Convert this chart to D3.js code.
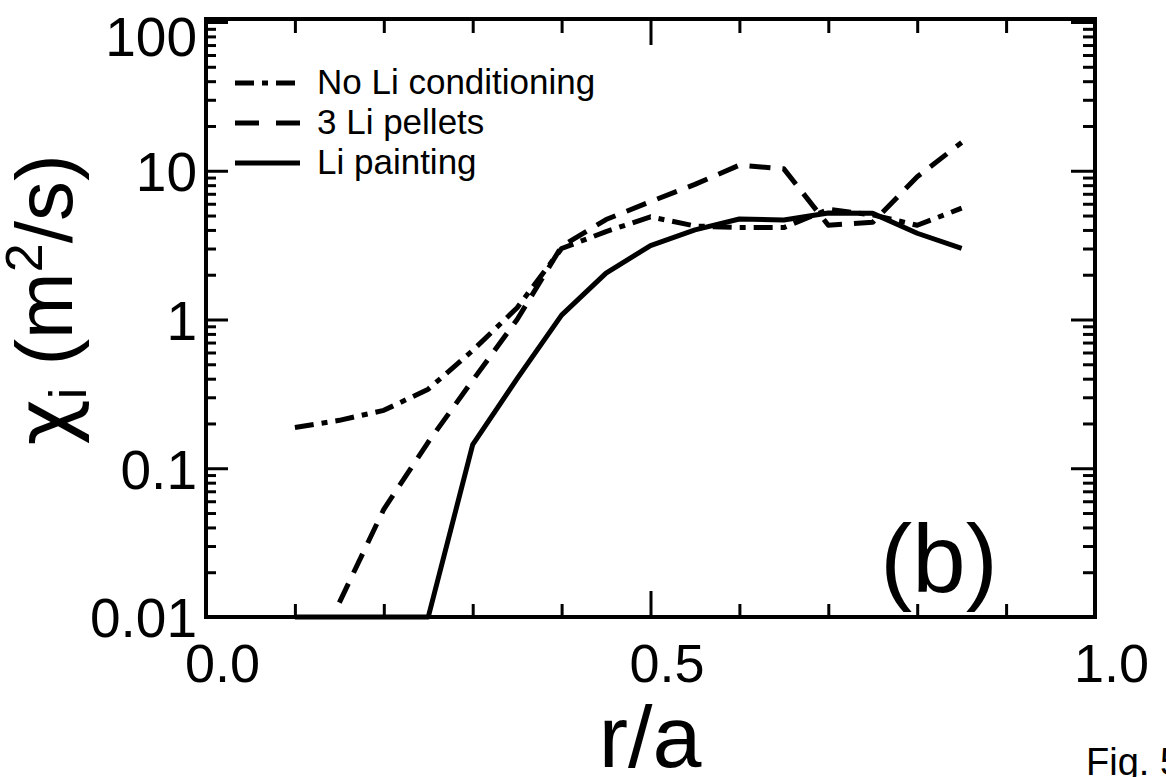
<!DOCTYPE html>
<html>
<head>
<meta charset="utf-8">
<style>
    body { margin: 0; background: #fff; }
    text { font-family: "Liberation Sans", Arial, sans-serif; fill: #000; }
    .line { fill: none; stroke: #000; stroke-width: 5px; stroke-linejoin: round; }
    .axis path { display: none; }
    .axis line { stroke: #000; stroke-width: 3px; }
</style>
</head>
<body>
<div id="chart"></div>
<script src="https://cdn.jsdelivr.net/npm/d3@7"></script>
<script>

    // r/a positions of the profiles
    const rNoLi = [0.1, 0.15, 0.2, 0.25, 0.3, 0.35, 0.4, 0.45, 0.5, 0.55, 0.6, 0.65, 0.7, 0.75, 0.8, 0.85];
    const rPellets = [0.15, 0.2, 0.25, 0.3, 0.35, 0.4, 0.45, 0.5, 0.55, 0.6, 0.65, 0.7, 0.75, 0.8, 0.85];
    const rPainting = [0.1, 0.15, 0.2, 0.25, 0.3, 0.35, 0.4, 0.45, 0.5, 0.55, 0.6, 0.65, 0.7, 0.75, 0.8, 0.85];

    // chi_i in m^2/s
    const chiNoLi = [0.188, 0.21, 0.245, 0.34, 0.62, 1.2, 3.0, 3.9, 4.9, 4.25, 4.15, 4.15, 5.5, 5.05, 4.3, 5.6];
    const chiPellets = [0.0125, 0.053, 0.15, 0.39, 1.0, 3.1, 4.7, 6.2, 8.1, 10.9, 10.3, 4.3, 4.5, 9.1, 15.5];
    const chiPainting = [0.01, 0.01, 0.01, 0.01, 0.144, 0.4, 1.07, 2.05, 3.14, 4.0, 4.74, 4.67, 5.2, 5.17, 3.8, 3.01];

    const seriesNames = ["No Li conditioning", "3 Li pellets", "Li painting"];
    const xMajor = [0, 0.5, 1];
    const xMinor = [0.1, 0.2, 0.3, 0.4, 0.6, 0.7, 0.8, 0.9];
    const yMajor = [0.01, 0.1, 1, 10, 100];
    const yLabels = ["0.01", "0.1", "1", "10", "100"];

    const dashes = ["19,8,6,8", "21,12", null];

    const svg = d3.select("#chart").append("svg")
        .attr("width", 1166)
        .attr("height", 777);

    const x = d3.scaleLinear().domain([0, 1]).range([206, 1095]);
    const y = d3.scaleLog().domain([0.01, 100]).range([617, 22]);

    // minor log ticks 2..9 per decade
    const yMinor = y.ticks().filter(function (v) { return yMajor.indexOf(v) < 0; });

    const series = [
        { name: seriesNames[0], values: rNoLi.map(function (r, i) { return { r: r, chi: chiNoLi[i] }; }) },
        { name: seriesNames[1], values: rPellets.map(function (r, i) { return { r: r, chi: chiPellets[i] }; }) },
        { name: seriesNames[2], values: rPainting.map(function (r, i) { return { r: r, chi: chiPainting[i] }; }) }
    ];

    const line = d3.line()
        .x(function (d) { return x(d.r); })
        .y(function (d) { return y(d.chi); });

    // ticks, all pointing inward
    svg.append("g").attr("class", "axis")
        .attr("transform", "translate(0," + y.range()[0] + ")")
        .call(d3.axisBottom(x).tickValues(xMinor).tickSize(-13).tickFormat(""));
    const xb = svg.append("g").attr("class", "axis")
        .attr("transform", "translate(0," + y.range()[0] + ")")
        .call(d3.axisBottom(x).tickValues(xMajor).tickSize(-26).tickPadding(27).tickFormat(d3.format(".1f")));
    xb.selectAll("text").attr("dx", 16).style("font-size", "54px");

    svg.append("g").attr("class", "axis")
        .attr("transform", "translate(0," + (y.range()[1] - 3) + ")")
        .call(d3.axisTop(x).tickValues(xMinor).tickSize(-14).tickFormat(""));
    svg.append("g").attr("class", "axis")
        .attr("transform", "translate(0," + (y.range()[1] - 3) + ")")
        .call(d3.axisTop(x).tickValues(xMajor).tickSize(-26).tickFormat(""));

    svg.append("g").attr("class", "axis")
        .attr("transform", "translate(" + x(0) + ",0)")
        .call(d3.axisLeft(y).tickValues(yMinor).tickSize(-10).tickFormat(""));
    const yl = svg.append("g").attr("class", "axis")
        .attr("transform", "translate(" + x(0) + ",0)")
        .call(d3.axisLeft(y).tickValues(yMajor).tickSize(-22).tickPadding(9)
            .tickFormat(function (d, i) { return yLabels[i]; }));
    yl.selectAll("text").style("font-size", "55px")
        .attr("dy", function (d) { return d === 100 ? "0.6em" : "0.36em"; });

    svg.append("g").attr("class", "axis")
        .attr("transform", "translate(" + x(1) + ",0)")
        .call(d3.axisRight(y).tickValues(yMinor).tickSize(-12).tickFormat(""));
    svg.append("g").attr("class", "axis")
        .attr("transform", "translate(" + x(1) + ",0)")
        .call(d3.axisRight(y).tickValues(yMajor).tickSize(-24).tickFormat(""));

    // frame
    svg.append("rect")
        .attr("x", x(0))
        .attr("y", y.range()[1] - 3)
        .attr("width", x(1) - x(0))
        .attr("height", y.range()[0] - y.range()[1] + 3)
        .attr("fill", "none")
        .attr("stroke", "#000")
        .attr("stroke-width", 4);

    // profiles
    svg.selectAll(".line")
        .data(series)
        .enter().append("path")
        .attr("class", "line")
        .attr("d", function (d) { return line(d.values); })
        .style("stroke-dasharray", function (d, i) { return dashes[i]; });

    // legend
    const leg = svg.selectAll(".legend")
        .data(series)
        .enter().append("g")
        .attr("class", "legend")
        .attr("transform", function (d, i) { return "translate(235," + (83 + i * 40) + ")"; });
    leg.append("line")
        .attr("x1", 0).attr("x2", 65)
        .attr("stroke", "#000").attr("stroke-width", 5)
        .style("stroke-dasharray", function (d, i) { return i === 1 ? "24,17" : dashes[i]; });
    leg.append("text")
        .attr("x", 82)
        .attr("y", 11)
        .style("font-size", "35px")
        .text(function (d) { return d.name; });

    // axis titles
    svg.append("text")
        .attr("x", 650)
        .attr("y", 767)
        .attr("text-anchor", "middle")
        .style("font-size", "88px")
        .text("r/a");

    const yt = svg.append("text")
        .attr("transform", "translate(72,300) rotate(-90)")
        .attr("text-anchor", "middle")
        .style("font-size", "80px");
    yt.append("tspan").style("font-family", "'DejaVu Sans', sans-serif").text("\u03c7");
    yt.append("tspan").attr("dy", 14).style("font-size", "52px").text("i");
    yt.append("tspan").attr("dy", -14).text(" (m");
    yt.append("tspan").attr("dy", -30).style("font-size", "52px").text("2");
    yt.append("tspan").attr("dy", 30).text("/s)");

    svg.append("text")
        .attr("x", 939)
        .attr("y", 592)
        .attr("text-anchor", "middle")
        .style("font-size", "96px")
        .text("(b)");

    svg.append("text")
        .attr("x", 1086)
        .attr("y", 775)
        .style("font-size", "38px")
        .text("Fig. 5");

</script>
</body>
</html>
